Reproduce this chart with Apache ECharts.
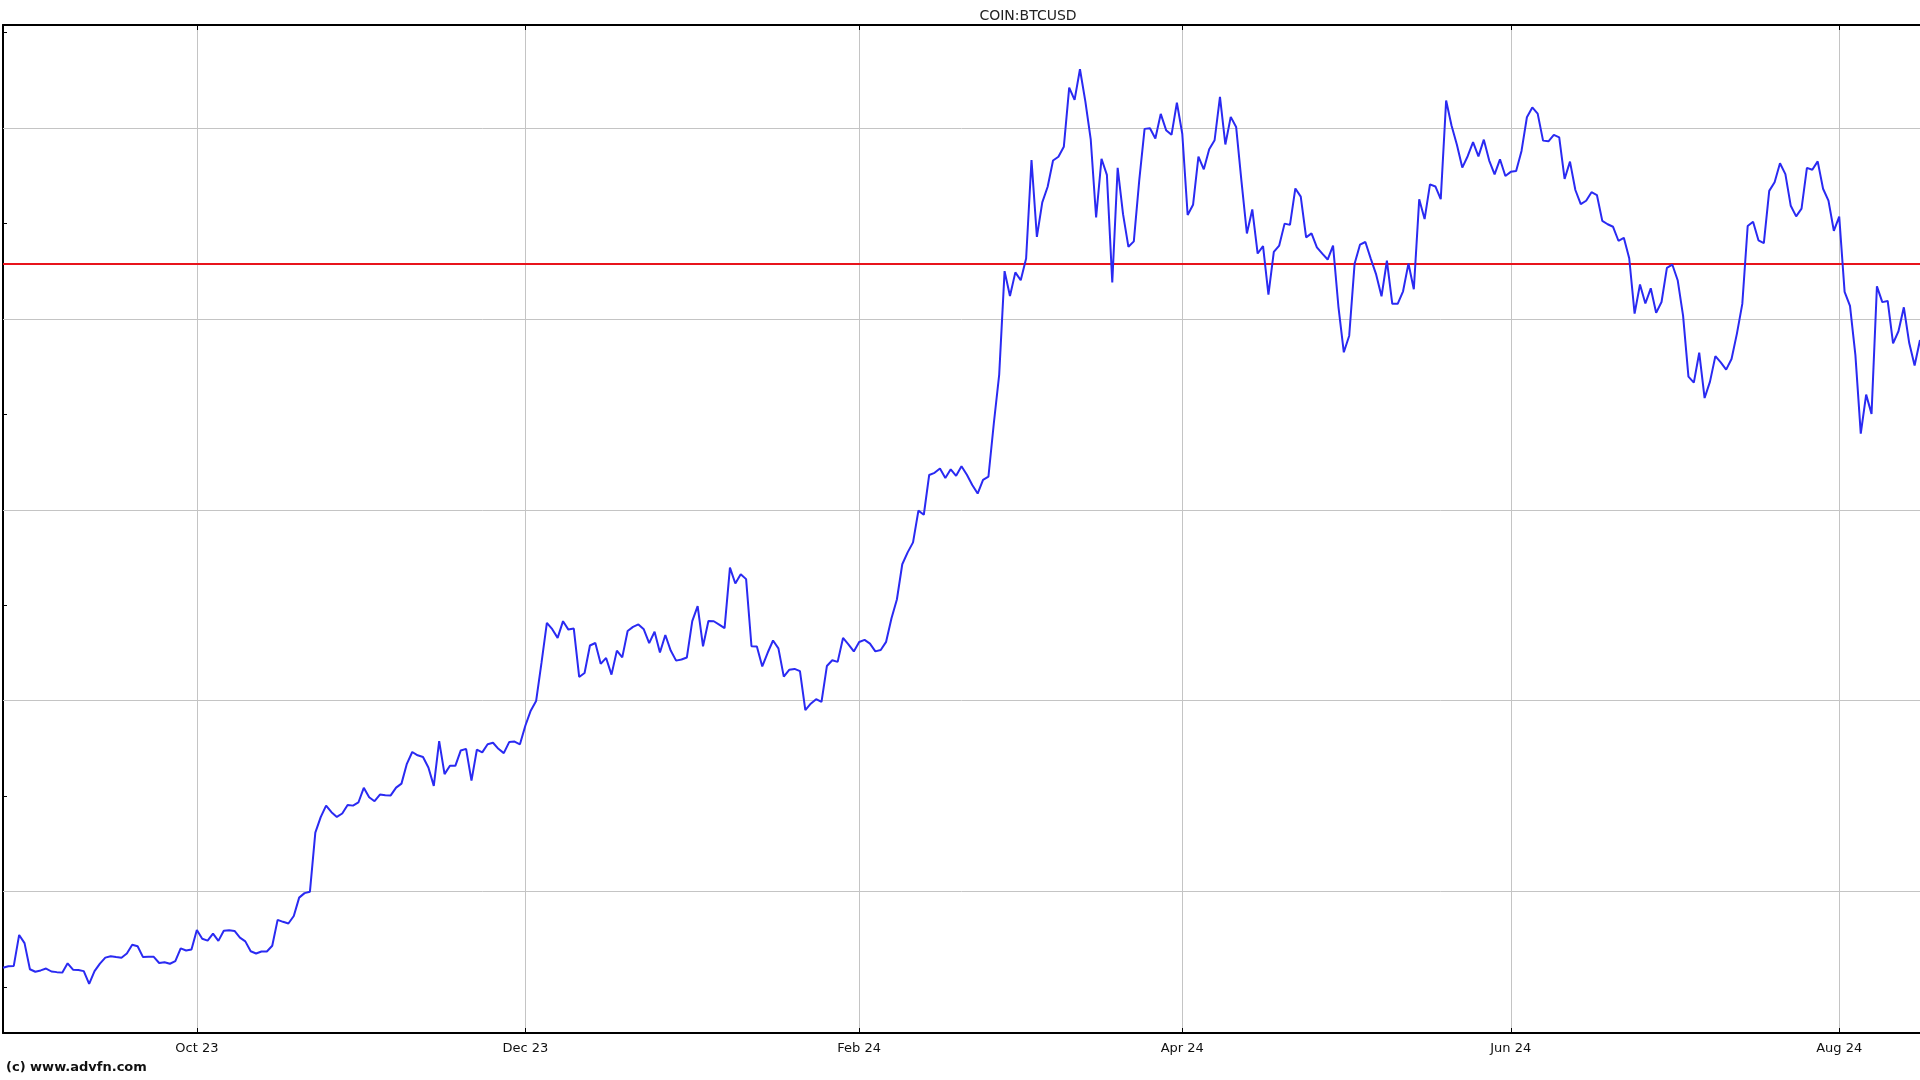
<!DOCTYPE html>
<html>
<head>
<meta charset="utf-8">
<script src="https://cdn.jsdelivr.net/npm/echarts@6/dist/echarts.min.js"></script>
<style>
html,body{margin:0;padding:0;background:#fff;}
#chart{width:1920px;height:1080px;}
</style>
</head>
<body>
<div id="chart"></div>
<script>
// ---- data (daily closes) ----
const startDate = [2023, 7, 26]; // 26 Aug 2023 (UTC, month 0-based)
const aug2023 = [26008, 26089, 26106, 27727, 27297, 25931];
const sep2023 = [25800, 25869, 25969, 25812, 25779, 25753, 26240, 25905, 25895, 25832, 25162, 25833, 26228, 26539, 26608, 26568, 26534, 26754, 27211, 27132, 26567, 26579, 26579, 26256, 26298, 26217, 26352, 27021, 26911, 26967];
const oct2023 = [27983, 27530, 27430, 27799, 27415, 27946, 27968, 27935, 27583, 27391, 26873, 26756, 26862, 26861, 27159, 28519, 28415, 28328, 28719, 29682, 29918, 29993, 33086, 33901, 34502, 34156, 33909, 34089, 34538, 34502, 34667];
const nov2023 = [35437, 34938, 34732, 35082, 35049, 35037, 35443, 35655, 36693, 37313, 37138, 37054, 36502, 35537, 37880, 36154, 36596, 36585, 37387, 37476, 35813, 37432, 37290, 37721, 37796, 37479, 37254, 37832, 37858, 37713];
const dec2023 = [38688, 39476, 39978, 41980, 44080, 43746, 43292, 44166, 43725, 43779, 41244, 41450, 42890, 43023, 41929, 42240, 41365, 42623, 42270, 43652, 43869, 43997, 43740, 43017, 43614, 42521, 43442, 42627, 42100, 42156, 42265];
const jan2024 = [44167, 44958, 42849, 44179, 44162, 43989, 43800, 46970, 46139, 46627, 46369, 42854, 42842, 41796, 42511, 43154, 42742, 41262, 41618, 41665, 41545, 39507, 39845, 40077, 39934, 41816, 42120, 42035, 43288, 42952, 42582];
const feb2024 = [43075, 43185, 42993, 42583, 42658, 43084, 44318, 45301, 47147, 47771, 48293, 49958, 49742, 51826, 51938, 52160, 51663, 52122, 51779, 52284, 51839, 51304, 50850, 51571, 51733, 54522, 57085, 62504, 61198];
const mar2024 = [62440, 62029, 63167, 68330, 64300, 66106, 66925, 68300, 68498, 69019, 72123, 71481, 73083, 71397, 69403, 65316, 68390, 67548, 61912, 67913, 65491, 63779, 64062, 67234, 69958, 69987, 69455, 70744, 69892, 69645, 71334];
const apr2024 = [69702, 65446, 65980, 68508, 67837, 68896, 69362, 71631, 69139, 70587, 70060, 67195, 64477, 65738, 63427, 63811, 61276, 63512, 63843, 64994, 64927, 66837, 66407, 64276, 64481, 63755, 63419, 63113, 63841, 60637];
const may2024 = [58254, 59123, 62889, 63891, 64031, 63162, 62334, 61187, 63049, 60793, 60793, 61448, 62901, 61553, 66267, 65232, 67051, 66940, 66278, 71448, 70136, 69122, 67929, 68526, 69265, 68518, 69394, 68296, 67578, 68364, 67491];
const jun2024 = [67706, 67751, 68804, 70567, 71082, 70757, 69342, 69305, 69647, 69512, 67332, 68241, 66756, 66012, 66191, 66639, 66490, 65140, 64960, 64829, 64096, 64252, 63181, 60277, 61804, 60811, 61604, 60320, 60887, 62678];
const jul2024 = [62851, 62029, 60173, 56977, 56662, 58231, 55857, 56714, 58052, 57725, 57344, 57899, 59231, 60787, 64870, 65097, 64118, 63974, 66710, 67164, 68154, 67585, 65927, 65372, 65777, 67912, 67813, 68255, 66819, 66201, 64619];
const aug2024 = [65357, 61415, 60680, 58116, 53991, 56034, 55027, 61710, 60881, 60945, 58719, 59355, 60609, 58737, 57560, 58894];

const tickDates  = ['2023-10-01', '2023-12-01', '2024-02-01', '2024-04-01', '2024-06-01', '2024-08-01'];
const tickLabels = ['Oct 23', 'Dec 23', 'Feb 24', 'Apr 24', 'Jun 24', 'Aug 24'];
const gridValues = [30000, 40000, 50000, 60000, 70000];
const minorTickValues = [25000, 30000, 35000, 40000, 45000, 50000, 55000, 60000, 65000, 70000, 75000];
const referenceLevel = 62880;
const yMin = 22590, yMax = 75400;
const titleText = 'COIN:BTCUSD';
const creditText = '(c) www.advfn.com';

// ---- build ----
const values = [].concat(aug2023, sep2023, oct2023, nov2023, dec2023, jan2024, feb2024, mar2024, apr2024, may2024, jun2024, jul2024, aug2024);
const categories = values.map(function (_, i) {
  return new Date(Date.UTC(startDate[0], startDate[1], startDate[2] + i)).toISOString().slice(0, 10);
});
const labelMap = {};
tickDates.forEach(function (d, i) { labelMap[d] = tickLabels[i]; });
const isTick = function (idx, val) { return labelMap.hasOwnProperty(val); };

const markData = gridValues.map(function (v) {
  return { yAxis: v, lineStyle: { color: '#c4c4c4', width: 1, type: 'solid' } };
});
markData.push({ yAxis: referenceLevel, lineStyle: { color: '#e8141c', width: 2, type: 'solid' } });

const chart = echarts.init(document.getElementById('chart'), null, { renderer: 'canvas' });
chart.setOption({
  animation: false,
  backgroundColor: '#ffffff',
  grid: { left: 3, right: 0, top: 25, bottom: 47, containLabel: false },
  xAxis: [{
    type: 'category',
    data: categories,
    boundaryGap: false,
    position: 'bottom',
    axisLine: { show: true, lineStyle: { color: '#000', width: 2 } },
    axisTick: { show: true, inside: true, length: 5, interval: isTick, lineStyle: { color: '#000', width: 1 } },
    axisLabel: {
      show: true, interval: isTick, margin: 9,
      formatter: function (v) { return labelMap[v] || ''; },
      color: '#111', fontFamily: 'DejaVu Sans', fontSize: 13
    },
    splitLine: { show: true, interval: isTick, lineStyle: { color: '#c4c4c4', width: 1 } }
  }, {
    type: 'category',
    data: categories,
    boundaryGap: false,
    position: 'top',
    axisLine: { show: true, lineStyle: { color: '#000', width: 2 } },
    axisTick: { show: true, inside: true, length: 5, interval: isTick, lineStyle: { color: '#000', width: 1 } },
    axisLabel: { show: false },
    splitLine: { show: false }
  }],
  yAxis: {
    type: 'value',
    min: yMin,
    max: yMax,
    axisLine: { show: true, onZero: false, lineStyle: { color: '#000', width: 2 } },
    axisTick: { show: true, inside: true, length: 4, customValues: minorTickValues, lineStyle: { color: '#000', width: 1 } },
    axisLabel: { show: false },
    splitLine: { show: false }
  },
  series: [{
    type: 'line',
    data: values,
    xAxisIndex: 0,
    showSymbol: false,
    symbol: 'none',
    smooth: false,
    z: 3,
    lineStyle: { color: '#2a2af2', width: 2 },
    markLine: {
      silent: true,
      z: 1,
      symbol: ['none', 'none'],
      label: { show: false },
      data: markData
    }
  }],
  graphic: [{
    type: 'text',
    x: 1028,
    y: 16,
    style: { text: titleText, fill: '#222', font: '14px "DejaVu Sans"', align: 'center', verticalAlign: 'middle' }
  }, {
    type: 'text',
    x: 6,
    y: 1068,
    style: { text: creditText, fill: '#111', font: 'bold 13px "DejaVu Sans"', align: 'left', verticalAlign: 'middle' }
  }]
});
</script>
</body>
</html>
